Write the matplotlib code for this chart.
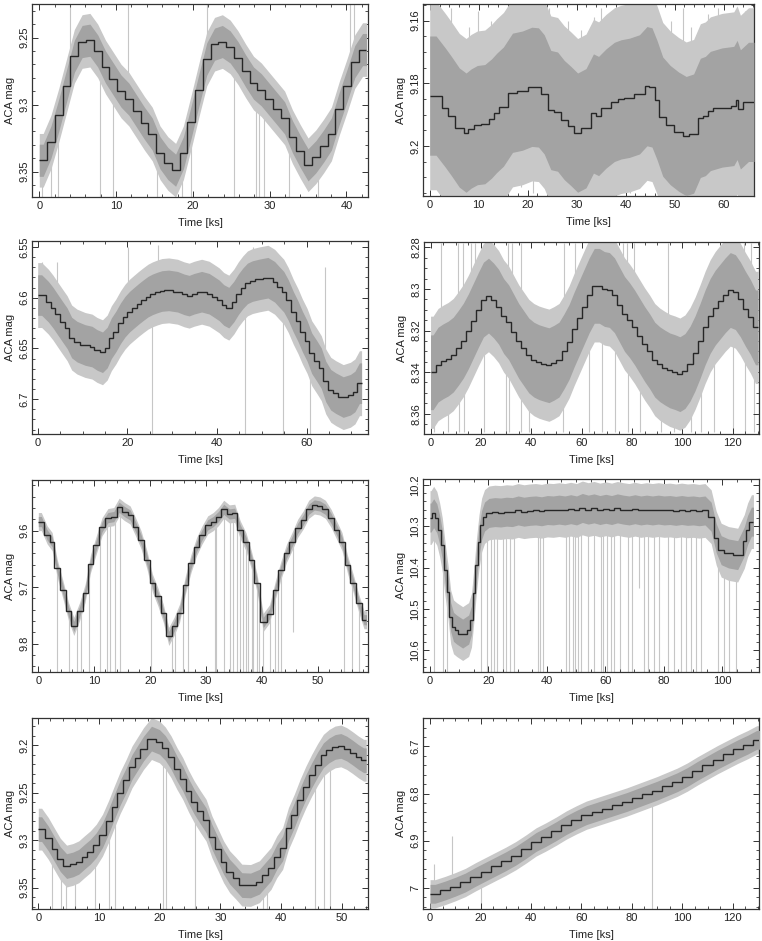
import numpy as np
import matplotlib
matplotlib.use('Agg')
import matplotlib.pyplot as plt
from matplotlib.ticker import AutoMinorLocator

plt.rcParams['font.family'] = ['Liberation Sans', 'DejaVu Sans']
plt.rcParams['font.size'] = 8

# ---- panel 1 (top left) ----
t1 = np.linspace(0, 42.6, 43)
m1 = [9.3416, 9.328, 9.308, 9.286, 9.264, 9.253, 9.252, 9.260, 9.272, 9.281,
      9.290, 9.296, 9.305, 9.314, 9.322, 9.336, 9.344, 9.349, 9.336, 9.313,
      9.289, 9.266, 9.255, 9.253, 9.257, 9.265, 9.275, 9.284, 9.289, 9.296,
      9.303, 9.310, 9.324, 9.335, 9.345, 9.339, 9.331, 9.322, 9.303, 9.286,
      9.268, 9.259]
s1_t = [0.3, 1.5, 2.4, 4.0, 7.9, 9.6, 11.5, 15.3, 18.6, 19.8, 21.8, 25.4, 28.2,
        28.6, 29.3, 32.5, 36.3, 40.4, 41.0]
s1_m = [9.37, 9.37, 9.37, 9.225, 9.37, 9.37, 9.225, 9.37, 9.37, 9.37, 9.225,
        9.37, 9.37, 9.37, 9.37, 9.37, 9.37, 9.225, 9.225]

# ---- panel 2 (top right) ----
t2 = [0, 2.6, 3.75, 5.1, 7.0, 7.85, 9.05, 10.4, 12.1, 13.15,
      14.2, 15.9, 17.9, 20.0, 21.7, 22.7, 24.05, 25.4, 26.8, 28.15,
      29.5, 30.9, 32.9, 33.95, 35.0, 37.0, 38.4, 39.75, 41.8, 43.85,
      44.85, 45.9, 46.9, 48.25, 49.95, 51.7, 53.0, 54.75, 55.75, 56.8,
      57.8, 61.55, 62.6, 62.9, 63.95, 66.2]
m2 = [9.1839, 9.1877, 9.1904, 9.1941, 9.1957, 9.1944, 9.1933, 9.1930, 9.1912, 9.1894,
      9.1874, 9.1830, 9.1823, 9.1811, 9.1813, 9.1835, 9.1885, 9.1890, 9.1917, 9.1936,
      9.1957, 9.1943, 9.1896, 9.1904, 9.1880, 9.1859, 9.1851, 9.1846, 9.1835, 9.1809,
      9.1813, 9.1853, 9.1906, 9.1933, 9.1954, 9.1968, 9.1960, 9.1910, 9.1904, 9.1888,
      9.1877, 9.1872, 9.1853, 9.1883, 9.1859]
s2_t = [1.6, 4.3, 8.0, 9.8, 12.5, 16.9, 19.3, 22.0, 24.4, 28.2, 30.9, 33.6, 35.0,
        37.7, 42.5, 45.9, 49.3, 51.7, 53.4, 56.8, 58.8, 61.5, 64.3,
        0.9, 3.6, 6.3, 9.1, 11.8, 13.8, 16.6, 18.6, 21.0, 23.4, 26.1, 28.4, 31.6,
        34.3, 37.9, 40.8, 43.8, 48.6, 50.6, 53.6, 55.4, 58.1, 60.9, 63.3, 65.0]
s2_m = [9.158, 9.156, 9.162, 9.157, 9.160, 9.156, 9.155, 9.158, 9.156, 9.160, 9.163,
        9.159, 9.156, 9.158, 9.155, 9.157, 9.160, 9.156, 9.162, 9.158, 9.156, 9.160,
        9.157,
        9.213, 9.215, 9.210, 9.214, 9.212, 9.215, 9.209, 9.213, 9.215, 9.211, 9.214,
        9.212, 9.215, 9.210, 9.213, 9.215, 9.211, 9.214, 9.209, 9.215, 9.212, 9.214,
        9.211, 9.215, 9.213]

# ---- panel 3 (second row left) ----
t3 = [0, 1.78, 2.97, 3.87, 4.98, 6.10, 7.06, 8.10, 9.44, 11.67,
      12.57, 13.90, 15.02, 15.99, 16.88, 17.99, 18.96, 20.00, 20.97, 22.08,
      23.05, 24.16, 25.06, 26.17, 27.29, 28.18, 30.26, 32.12, 33.23, 34.35,
      35.46, 37.70, 38.81, 39.93, 41.04, 42.01, 43.27, 44.24, 45.28, 46.25,
      47.36, 48.48, 50.33, 52.42, 53.31, 54.42, 55.39, 56.43, 57.62, 58.51,
      59.63, 60.59, 61.71, 62.83, 63.72, 64.83, 65.95, 67.06, 69.29, 70.26,
      71.30, 72.27]
m3 = [6.5974, 6.6039, 6.6098, 6.6164, 6.6236, 6.6302, 6.6393, 6.6433, 6.6466, 6.6482,
      6.6515, 6.6538, 6.6492, 6.6400, 6.6334, 6.6252, 6.6187, 6.6138, 6.6098, 6.6059,
      6.6023, 6.5990, 6.5967, 6.5948, 6.5934, 6.5928, 6.5941, 6.5967, 6.5980, 6.5961,
      6.5941, 6.5961, 6.5993, 6.6026, 6.6072, 6.6098, 6.6039, 6.5967, 6.5908, 6.5859,
      6.5836, 6.5820, 6.5803, 6.5843, 6.5892, 6.5941, 6.6023, 6.6138, 6.6230, 6.6334,
      6.6426, 6.6548, 6.6623, 6.6695, 6.6826, 6.6908, 6.6941, 6.6980, 6.6957, 6.6925,
      6.6843]
s3_t = [1.0, 4.2, 20.2, 25.4, 26.9, 46.2, 48.0, 50.3, 54.8, 60.7, 64.0]
s3_m = [6.565, 6.565, 6.55, 6.735, 6.548, 6.735, 6.55, 6.55, 6.735, 6.735, 6.57]

# ---- panel 4 (second row right) ----
t4 = np.arange(0, 131, 2)
m4 = [8.3401, 8.3364, 8.3348, 8.3335, 8.3316, 8.3284, 8.3249, 8.3204, 8.3152, 8.3100,
      8.3051, 8.3032, 8.3055, 8.3085, 8.3130, 8.3160, 8.3205, 8.3250, 8.3285, 8.3320,
      8.3340, 8.3352, 8.3360, 8.3367, 8.3355, 8.3340, 8.3300, 8.3255, 8.3195, 8.3140,
      8.3085, 8.3030, 8.2985, 8.2985, 8.3000, 8.3005, 8.3030, 8.3075, 8.3120, 8.3150,
      8.3185, 8.3225, 8.3265, 8.3300, 8.3340, 8.3362, 8.3378, 8.3392, 8.3400, 8.3410,
      8.3395, 8.3360, 8.3310, 8.3250, 8.3185, 8.3130, 8.3090, 8.3060, 8.3030, 8.3005,
      8.3015, 8.3050, 8.3095, 8.3135, 8.3185]
s4_t = [4.1, 11.0, 12.7, 16.0, 17.7, 30.6, 32.2, 35.9, 52.8, 57.5, 65.0, 67.0, 73.0,
        76.3, 78.0, 80.9, 94.2, 119.3, 121.9, 124.6, 127.3,
        1.5, 6.8, 11.2, 13.4, 21.3, 29.9, 31.3, 36.1, 39.2, 52.4, 63.0, 68.0, 73.2,
        78.3, 83.3, 91.5, 96.8, 103.4, 107.4, 112.7, 120.0, 124.8, 128.3]
s4_m = [8.278] * 21 + [8.369] * 23

# ---- panel 5 (third row left) ----
t5 = [0.00, 1.07, 2.08, 2.86, 3.87, 4.94, 5.83, 6.85, 7.92, 8.81,
      9.82, 10.89, 11.90, 12.98, 13.99, 14.88, 15.95, 16.85, 17.86, 18.87,
      19.94, 20.83, 21.85, 22.80, 23.81, 24.70, 25.77, 26.79, 27.80, 28.75,
      29.76, 30.77, 31.73, 32.62, 33.63, 34.64, 35.54, 36.61, 37.56, 38.57,
      39.58, 40.77, 41.85, 42.86, 43.87, 44.82, 45.83, 46.85, 47.80, 48.81,
      49.82, 50.77, 51.79, 52.80, 53.75, 54.76, 55.77, 56.73, 57.74, 58.63]
m5 = [9.5841, 9.6076, 9.6194, 9.6665, 9.7047, 9.7429, 9.7694, 9.7429, 9.7106, 9.6588,
      9.6253, 9.5929, 9.5771, 9.5753, 9.5588, 9.5665, 9.5724, 9.5929, 9.6165, 9.6518,
      9.6929, 9.7165, 9.7459, 9.7871, 9.7694, 9.7459, 9.6959, 9.6576, 9.6282, 9.6076,
      9.5900, 9.5841, 9.5753, 9.5624, 9.5706, 9.5694, 9.5988, 9.6194, 9.6518, 9.6929,
      9.7624, 9.7471, 9.7047, 9.6694, 9.6400, 9.6194, 9.5959, 9.5812, 9.5624, 9.5547,
      9.5565, 9.5624, 9.5782, 9.5988, 9.6194, 9.6606, 9.6929, 9.7282, 9.7576]
s5_t = [3.4, 5.4, 6.9, 7.7, 9.1, 11.0, 12.2, 12.8, 13.7, 14.6, 20.2, 23.8, 24.4,
        25.8, 26.8, 31.5, 31.8, 33.1, 34.2, 34.8, 35.5, 36.0, 36.6, 37.1, 37.5,
        38.1, 38.4, 39.0, 39.5, 40.2, 41.4, 42.3, 42.9, 43.3, 45.5, 54.6, 56.1, 57.3]
s5_m = [9.85] * 34 + [9.78, 9.85, 9.85, 9.85]

# ---- panel 6 (third row right) ----
t6 = ([0, 0.68, 1.83, 2.85, 3.77, 4.68, 5.71, 6.62, 7.53, 8.56, 9.70, 12.67,
       13.81, 14.61, 15.53, 16.32, 17.24, 18.15, 19.2]
      + list(np.arange(21.2, 95.3, 2))
      + [97.4, 98.7, 100.8, 103.7, 107.1, 108.2, 109.4, 110.8])
m6 = [10.2792, 10.2687, 10.2808, 10.3091, 10.3455, 10.4061, 10.4586, 10.5192, 10.5434,
      10.5499, 10.5596, 10.5499, 10.5273, 10.4626, 10.3939, 10.3374, 10.2970, 10.2768,
      10.268, 10.266, 10.267, 10.265, 10.266, 10.262, 10.265, 10.263, 10.262, 10.264,
      10.261, 10.262, 10.260, 10.262, 10.259, 10.262, 10.256, 10.260, 10.257, 10.261,
      10.258, 10.261, 10.257, 10.260, 10.262, 10.259, 10.262, 10.260, 10.262, 10.260,
      10.262, 10.261, 10.263, 10.261, 10.263, 10.262, 10.264, 10.262,
      10.277, 10.329, 10.358, 10.366, 10.370, 10.337, 10.309, 10.289]
s6_t = [1.3, 4.3, 5.8, 17.5, 19.5, 20.9, 22.0, 23.0, 24.9, 26.0, 27.4, 28.9, 36.9,
        37.7, 38.6, 46.6, 47.7, 48.9, 49.7, 50.6, 51.7, 54.2, 56.3, 58.6, 59.1, 60.8,
        62.0, 63.1, 65.2, 67.7, 69.1, 71.7, 73.4, 74.6, 76.8, 78.5, 81.4, 83.7, 85.9,
        87.7, 89.4, 91.1, 92.8, 98.5, 100.8, 102.5, 104.8]
s6_m = [10.652] * 31 + [10.45] + [10.652] * 15

# ---- panel 7 (bottom left) ----
t7 = [0, 1.10, 2.19, 3.13, 4.11, 5.21, 6.20, 7.13, 8.06, 9.05,
      10.03, 11.13, 12.06, 12.99, 13.98, 14.97, 15.90, 16.83, 17.82, 19.46,
      20.45, 21.38, 22.37, 23.30, 24.29, 25.22, 26.15, 27.14, 28.13, 29.06,
      30.04, 30.98, 32.07, 33.06, 33.99, 35.91, 36.90, 37.83, 38.82, 39.75,
      40.73, 41.67, 42.65, 43.59, 44.57, 45.50, 46.49, 47.42, 48.41, 49.34,
      50.33, 51.26, 52.25, 53.18, 54.0]
m7 = [9.2883, 9.2981, 9.3094, 9.3199, 9.3272, 9.3255, 9.3227, 9.3174, 9.3122, 9.3052,
      9.2946, 9.2799, 9.2648, 9.2498, 9.2368, 9.2228, 9.2133, 9.2035, 9.1930, 9.1965,
      9.2028, 9.2123, 9.2245, 9.2351, 9.2484, 9.2596, 9.2694, 9.2789, 9.2964, 9.3094,
      9.3227, 9.3332, 9.3402, 9.3472, 9.3476, 9.3437, 9.3367, 9.3297, 9.3174, 9.3087,
      9.2876, 9.2736, 9.2578, 9.2438, 9.2315, 9.2203, 9.2105, 9.2053, 9.2018, 9.2007,
      9.2035, 9.2077, 9.2123, 9.2158]
s7_t = [2.2, 3.8, 4.6, 6.0, 9.3, 11.6, 12.6, 20.6, 21.1, 25.8, 37.0, 37.6, 45.5,
        47.1, 48.1]
s7_m = [9.372] * 15

# ---- panel 8 (bottom right) ----
t8 = list(np.arange(0, 129, 4)) + [131]
m8 = [7.013, 7.006, 6.998, 6.989, 6.977, 6.966, 6.955, 6.944, 6.932, 6.918,
      6.903, 6.892, 6.880, 6.867, 6.856, 6.846, 6.839, 6.832, 6.825, 6.818,
      6.810, 6.802, 6.794, 6.785, 6.776, 6.765, 6.752, 6.740, 6.728, 6.717,
      6.706, 6.696, 6.686]
s8_t = [0.3, 1.5, 8.5, 20.0, 88.0, 90.5]
s8_m = [7.045, 6.95, 6.89, 7.045, 7.045, 6.765]

W, H = 762, 941
fig = plt.figure(figsize=(W / 100, H / 100), dpi=100)


def draw(box, edges, steps, w_in, w_out, sp_t, sp_m, xlim, ylim, xticks, yticks):
    l, t, r, b = box
    ax = fig.add_axes([l / W, 1 - b / H, (r - l) / W, (b - t) / H])
    edges = np.asarray(edges, float)
    steps = np.asarray(steps, float)
    idx = np.clip(np.searchsorted(edges, sp_t, side='right') - 1, 0, len(steps) - 1)
    ax.vlines(sp_t, steps[idx], sp_m, color='#c6c6c6', lw=0.8, zorder=1)
    # scatter band of the raw samples, joined through the bin centres
    xc = np.concatenate([[edges[0]], (edges[:-1] + edges[1:]) / 2, [edges[-1]]])
    yc = np.concatenate([[steps[0]], steps, [steps[-1]]])
    ax.fill_between(xc, yc - w_out, yc + w_out, color='#c8c8c8', lw=0, zorder=2)
    ax.fill_between(xc, yc - w_in, yc + w_in, color='#a3a3a3', lw=0, zorder=3)
    ax.stairs(steps, edges, baseline=None, color='#262626', lw=1.0, zorder=4)
    ax.set_xlim(*xlim)
    ax.set_ylim(*ylim)
    ax.set_xticks(xticks)
    ax.set_xticklabels(['%g' % v for v in xticks])
    ax.set_yticks(yticks)
    ax.set_yticklabels(['%g' % v for v in yticks], rotation=90, va='center')
    ax.xaxis.set_minor_locator(AutoMinorLocator())
    ax.yaxis.set_minor_locator(AutoMinorLocator())
    ax.tick_params(which='both', direction='in', top=True, right=True,
                   colors='#333333', labelcolor='#222222', labelsize=8)
    ax.tick_params(which='major', length=4, width=0.7)
    ax.tick_params(which='minor', length=2, width=0.6)
    ax.tick_params(axis='x', pad=3)
    ax.tick_params(axis='y', pad=2)
    for s in ax.spines.values():
        s.set_color('#333333')
        s.set_linewidth(0.9)
    ax.set_xlabel('Time [ks]', labelpad=5, color='#222222')
    ax.set_ylabel('ACA mag', labelpad=3, color='#222222')
    return ax


draw((32, 4, 368, 197), t1, m1, 0.012, 0.02, s1_t, s1_m,
     (-0.95, 42.8), (9.369, 9.225), [0, 10, 20, 30, 40], [9.25, 9.3, 9.35])
draw((423, 4, 754, 196), t2, m2, 0.019, 0.03, s2_t, s2_m,
     (-1.37, 66.2), (9.2159, 9.1547), [0, 10, 20, 30, 40, 50, 60], [9.16, 9.18, 9.2])
draw((32, 241, 368, 434), t3, m3, 0.02, 0.032, s3_t, s3_m,
     (-1.27, 73.7), (6.7344, 6.5441), [0, 20, 40, 60], [6.55, 6.6, 6.65, 6.7])
draw((424, 242, 759, 434), t4, m4, 0.018, 0.027, s4_t, s4_m,
     (-2.6, 130.4), (8.3698, 8.2774), [0, 20, 40, 60, 80, 100, 120],
     [8.28, 8.3, 8.32, 8.34, 8.36])
draw((32, 480, 368, 672), t5, m5, 0.009, 0.016, s5_t, s5_m,
     (-1.13, 58.9), (9.85, 9.5106), [0, 10, 20, 30, 40, 50], [9.6, 9.7, 9.8])
draw((423, 479, 759, 672), t6, m6, 0.035, 0.065, s6_t, s6_m,
     (-2.4, 112.7), (10.6525, 10.186), [0, 20, 40, 60, 80, 100],
     [10.2, 10.3, 10.4, 10.5, 10.6])
draw((32, 718, 368, 909), t7, m7, 0.013, 0.022, s7_t, s7_m,
     (-1.04, 54.3), (9.3724, 9.1713), [0, 10, 20, 30, 40, 50], [9.2, 9.25, 9.3, 9.35])
draw((423, 718, 759, 909), t8, m8, 0.02, 0.03, s8_t, s8_m,
     (-2.8, 130.4), (7.0453, 6.6396), [0, 20, 40, 60, 80, 100, 120],
     [6.7, 6.8, 6.9, 7.0])

fig.savefig('out.png', dpi=100)
